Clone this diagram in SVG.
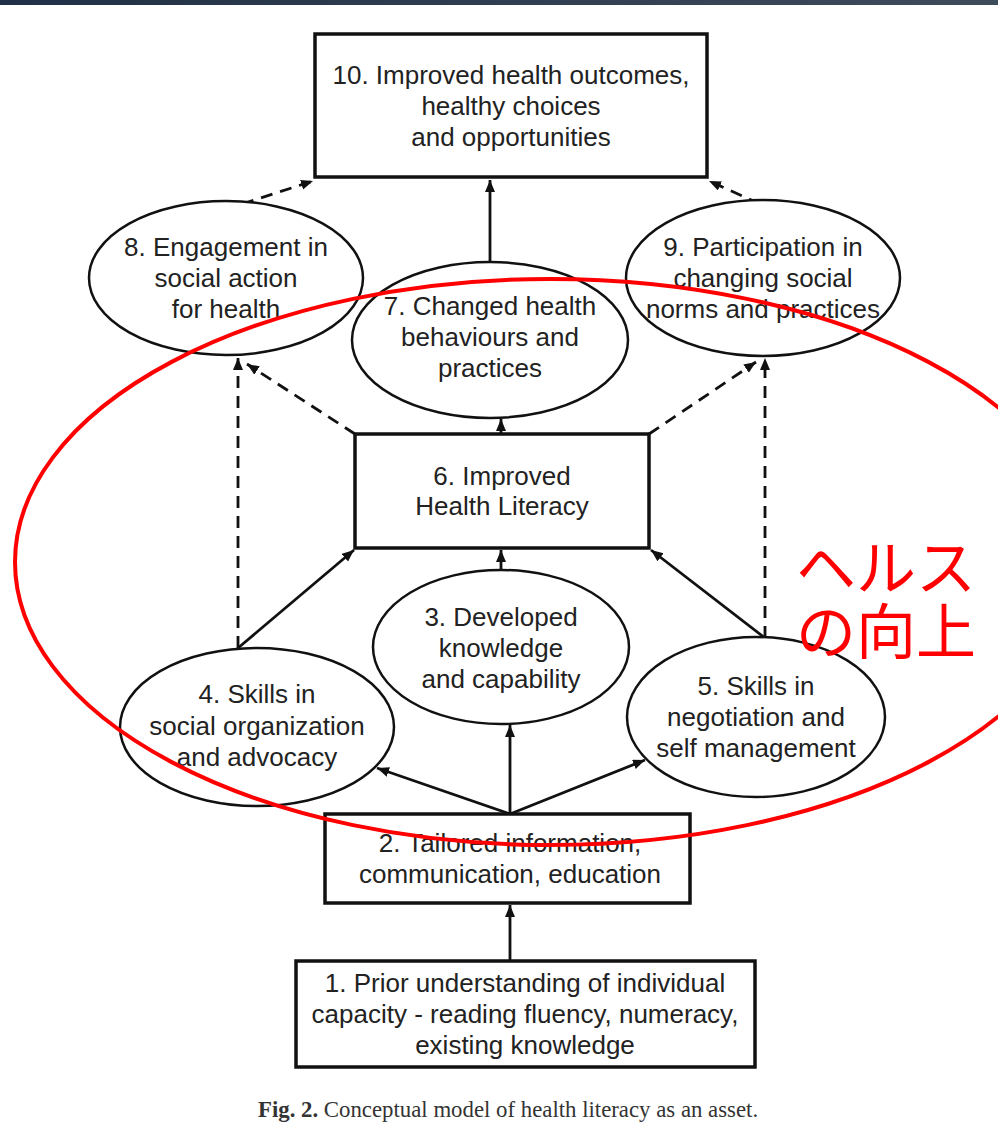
<svg xmlns="http://www.w3.org/2000/svg" width="998" height="1132" viewBox="0 0 998 1132">
  <defs>
    <linearGradient id="topbar" x1="0" y1="0" x2="1" y2="0">
      <stop offset="0" stop-color="#223047"/>
      <stop offset="1" stop-color="#3e4b5b"/>
    </linearGradient>
    <marker id="arrow" markerUnits="userSpaceOnUse" markerWidth="14" markerHeight="12" refX="12" refY="5" orient="auto">
      <path d="M0,0 L12,5 L0,10 z" fill="#111"/>
    </marker>
    <style>
      .box { fill: #fff; stroke: #111; stroke-width: 3.5; }
      .oval { fill: #fff; stroke: #111; stroke-width: 2.5; }
      .lbl { font-family: "Liberation Sans", Arial, sans-serif; font-size: 26px; fill: #222; text-anchor: middle; }
      .solid { fill: none; stroke: #111; stroke-width: 2.8; marker-end: url(#arrow); }
      .dash { fill: none; stroke: #111; stroke-width: 2.8; stroke-dasharray: 12 8; marker-end: url(#arrow); }
      .note { fill: none; stroke: #ff0000; stroke-width: 4; }
      .notetext { font-family: "Noto Sans CJK JP", sans-serif; font-size: 60px; fill: #ff0000; }
      .caption { font-family: "Liberation Serif", "Times New Roman", serif; font-size: 22.8px; fill: #333; }
    </style>
  </defs>

  <rect x="0" y="0" width="998" height="5" fill="url(#topbar)"/>
  <rect x="0" y="5" width="998" height="1127" fill="#fff"/>

  <!-- connectors -->
  <g id="connectors">
    <line class="solid" x1="510" y1="961" x2="510" y2="905"/>
    <line class="solid" x1="510" y1="814" x2="377" y2="768"/>
    <line class="solid" x1="510" y1="814" x2="510" y2="725"/>
    <line class="solid" x1="510" y1="814" x2="645" y2="760"/>
    <line class="solid" x1="238" y1="648" x2="354" y2="550"/>
    <line class="solid" x1="765" y1="638" x2="651" y2="550"/>
    <line class="solid" x1="501" y1="570" x2="501" y2="550"/>
    <line class="solid" x1="501" y1="434" x2="501" y2="419"/>
    <line class="solid" x1="490" y1="263" x2="490" y2="180"/>
    <line class="dash" x1="238" y1="648" x2="238" y2="358"/>
    <line class="dash" x1="355" y1="434" x2="247" y2="364"/>
    <line class="dash" x1="765" y1="638" x2="765" y2="358"/>
    <line class="dash" x1="649" y1="434" x2="756" y2="362"/>
    <line class="dash" x1="242" y1="204" x2="313" y2="181"/>
    <line class="dash" x1="760" y1="204" x2="709" y2="181"/>
  </g>

  <g id="node10">
    <rect class="box" x="315" y="34" width="392" height="143"/>
    <text class="lbl" x="511" y="84">10. Improved health outcomes,</text>
    <text class="lbl" x="511" y="115">healthy choices</text>
    <text class="lbl" x="511" y="146">and opportunities</text>
  </g>

  <g id="node8">
    <ellipse class="oval" cx="226" cy="278" rx="137" ry="77"/>
    <text class="lbl" x="226" y="256">8. Engagement in</text>
    <text class="lbl" x="226" y="287">social action</text>
    <text class="lbl" x="226" y="318">for health</text>
  </g>

  <g id="node9">
    <ellipse class="oval" cx="763" cy="278" rx="137" ry="78"/>
    <text class="lbl" x="763" y="256">9. Participation in</text>
    <text class="lbl" x="763" y="287">changing social</text>
    <text class="lbl" x="763" y="318">norms and practices</text>
  </g>

  <g id="node7">
    <ellipse class="oval" cx="490" cy="340" rx="138" ry="78"/>
    <text class="lbl" x="490" y="315">7. Changed health</text>
    <text class="lbl" x="490" y="346">behaviours and</text>
    <text class="lbl" x="490" y="377">practices</text>
  </g>

  <g id="node6">
    <rect class="box" x="355" y="434" width="294" height="114"/>
    <text class="lbl" x="502" y="485">6. Improved</text>
    <text class="lbl" x="502" y="515">Health Literacy</text>
  </g>

  <g id="node3">
    <ellipse class="oval" cx="501" cy="647" rx="128" ry="77"/>
    <text class="lbl" x="501" y="626">3. Developed</text>
    <text class="lbl" x="501" y="657">knowledge</text>
    <text class="lbl" x="501" y="688">and capability</text>
  </g>

  <g id="node4">
    <ellipse class="oval" cx="257" cy="727" rx="137" ry="79"/>
    <text class="lbl" x="257" y="703">4. Skills in</text>
    <text class="lbl" x="257" y="735">social organization</text>
    <text class="lbl" x="257" y="766">and advocacy</text>
  </g>

  <g id="node5">
    <ellipse class="oval" cx="756" cy="717" rx="129" ry="80"/>
    <text class="lbl" x="756" y="695">5. Skills in</text>
    <text class="lbl" x="756" y="726">negotiation and</text>
    <text class="lbl" x="756" y="757">self management</text>
  </g>

  <g id="node2">
    <rect class="box" x="325" y="814" width="365" height="89"/>
    <text class="lbl" x="510" y="852">2. Tailored information,</text>
    <text class="lbl" x="510" y="883">communication, education</text>
  </g>

  <g id="node1">
    <rect class="box" x="296" y="961" width="459" height="106"/>
    <text class="lbl" x="525" y="992">1. Prior understanding of individual</text>
    <text class="lbl" x="525" y="1023">capacity - reading fluency, numeracy,</text>
    <text class="lbl" x="525" y="1054">existing knowledge</text>
  </g>

  <text class="caption" x="258" y="1117"><tspan font-weight="bold">Fig. 2.</tspan> Conceptual model of health literacy as an asset.</text>

  <!-- hand-drawn highlight -->
  <g id="highlight">
    <ellipse class="note" cx="550" cy="562" rx="535" ry="283"/>
    <text class="notetext"><tspan x="796" y="590">ヘルス</tspan><tspan x="796" y="654">の向上</tspan></text>
  </g>
</svg>
